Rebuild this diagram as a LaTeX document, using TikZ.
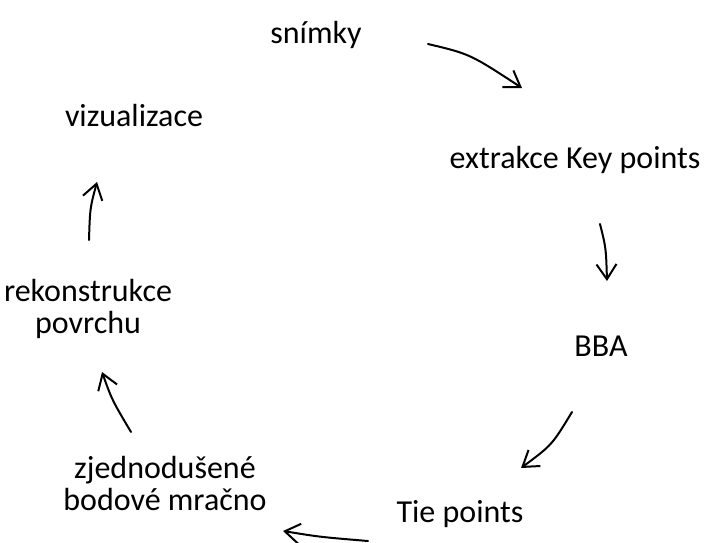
\documentclass[tikz,border=0pt]{standalone}
\usepackage{fontspec}
\setmainfont{Carlito}
\usetikzlibrary{arrows.meta}
\begin{document}
\begin{tikzpicture}[x=1pt,y=-1pt,
  lbl/.style={align=center,inner sep=0pt,font=\fontsize{32}{32}\selectfont},
  flow/.style={line width=2pt,line cap=round,-{Straight Barb[length=15pt,width=20pt,line width=2pt]}}]
\useasboundingbox (0,0) rectangle (704,543);
\node[lbl] (snimky) at (316,35) {snímky};
\node[lbl] (extr) at (575,160) {extrakce Key points};
\node[lbl] (bba) at (601,346) {BBA};
\node[lbl] (tie) at (460,514) {Tie points};
\node[lbl] (zjed) at (165,484) {zjednodušené\\bodové mračno};
\node[lbl] (rek) at (88,309) {rekonstrukce\\povrchu};
\node[lbl] (viz) at (134,116) {vizualizace};
% free ends of the connectors
\coordinate (a1) at (428,44);  \coordinate (b1) at (522,88);
\coordinate (a2) at (600,224); \coordinate (b2) at (607,281);
\coordinate (a3) at (572,412); \coordinate (b3) at (521,468);
\coordinate (a4) at (368,541); \coordinate (b4) at (283,531);
\coordinate (a5) at (131,432); \coordinate (b5) at (102,372);
\coordinate (a6) at (89,240);  \coordinate (b6) at (97,182);
\draw[flow] (a1) .. controls (470,54) .. (b1);
\draw[flow] (a2) .. controls (606,248) .. (b2);
\draw[flow] (a3) .. controls (552,445) .. (b3);
\draw[flow] (a4) .. controls (320,537) .. (b4);
\draw[flow] (a5) .. controls (112,400) .. (b5);
\draw[flow] (a6) .. controls (90,208) .. (b6);
\end{tikzpicture}
\end{document}
